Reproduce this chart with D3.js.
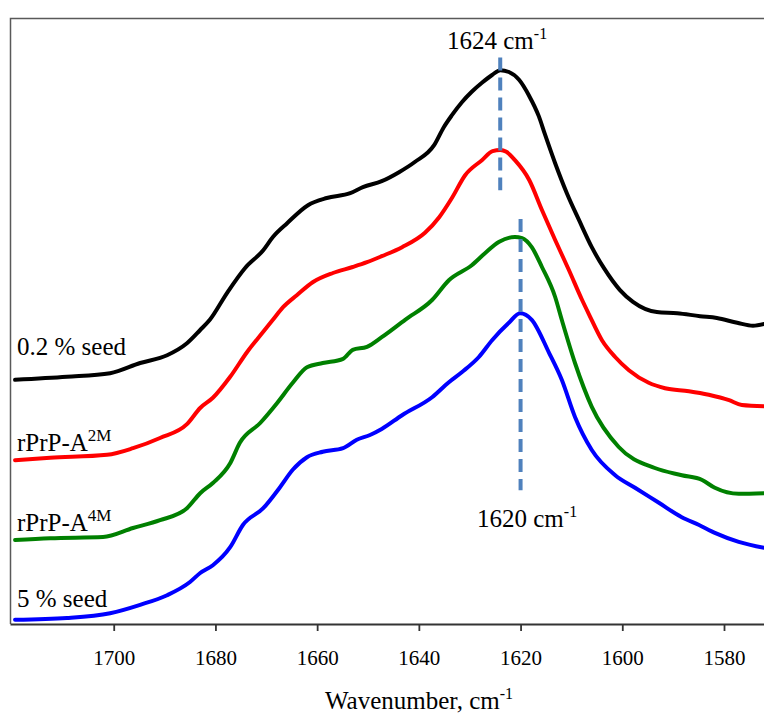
<!DOCTYPE html>
<html><head><meta charset="utf-8">
<script src="https://cdn.jsdelivr.net/npm/d3@7"></script>
<style>
body{margin:0;background:#fff}
svg{display:block}
text{font-family:"Liberation Serif","Times New Roman",serif;fill:#000}
</style>
</head><body>
<svg id="c" width="764" height="715"></svg>
<script>
// ---- data (absorbance, arbitrary offset units) ----
const xTicks = [1700, 1680, 1660, 1640, 1620, 1600, 1580];

const seed02Wn  = [1719.4,1709.2,1700.7,1694.8,1689.5,1685.6,1683.0,1681.1,1677.7,1674.2,1670.6,1668.7,1665.9,1661.8,1658.1,1653.5,1651.0,1647.3,1643.9,1640.8,1637.0,1635.1,1633.5,1631.5,1629.6,1627.6,1625.6,1624.0,1622.3,1620.3,1618.3,1616.4,1615.2,1613.2,1610.9,1608.5,1606.0,1603.6,1600.5,1597.9,1593.2,1589.2,1584.7,1581.4,1577.4,1574.3,1572.1];
const seed02Abs = [40.7,41.2,41.8,43.5,44.8,46.8,49.0,50.7,55.2,59.3,62.3,64.5,66.8,69.8,71.0,71.8,72.8,73.8,75.3,77.0,79.8,82.8,84.8,87.0,88.7,90.2,91.5,92.3,92.0,90.7,88.0,84.6,81.6,76.8,71.8,67.3,62.8,59.3,55.7,53.7,52.0,51.8,51.3,51.0,50.2,49.7,50.0];

const a2mWn  = [1719.4,1712.5,1701.3,1696.2,1690.9,1685.6,1683.0,1680.5,1677.1,1673.8,1670.6,1668.7,1666.7,1664.0,1660.8,1656.9,1653.0,1650.2,1647.3,1643.3,1638.8,1636.0,1633.5,1630.9,1627.6,1625.5,1624.0,1622.8,1621.1,1618.3,1615.8,1613.2,1610.5,1607.9,1606.6,1604.0,1601.4,1598.7,1594.8,1591.6,1586.9,1583.0,1579.0,1576.5,1572.1];
const a2mAbs = [27.3,27.7,28.2,29.3,31.0,33.3,36.0,37.7,41.2,45.3,48.7,50.7,52.8,54.8,57.0,58.5,59.5,60.3,61.3,62.8,65.2,67.8,71.0,74.8,77.3,78.8,79.0,78.7,77.3,74.0,69.0,64.0,59.0,54.0,51.7,47.3,44.5,42.3,40.2,39.3,38.8,38.2,37.3,36.5,36.3];

const a4mWn  = [1719.4,1712.5,1702.1,1696.2,1690.9,1685.6,1683.0,1680.5,1677.1,1675.2,1671.2,1667.9,1664.8,1662.0,1658.9,1654.9,1653.0,1650.2,1647.3,1642.7,1637.4,1634.1,1629.6,1627.0,1624.2,1621.1,1619.7,1617.8,1615.8,1613.2,1611.9,1609.3,1606.0,1600.7,1593.6,1588.3,1584.3,1581.8,1577.1,1572.1];
const a4mAbs = [14.0,14.3,14.5,16.0,17.3,19.3,21.8,23.5,26.8,30.2,33.5,36.8,40.2,42.8,43.5,44.2,45.7,46.2,47.8,50.7,54.0,57.3,59.8,61.8,63.7,64.5,64.3,62.8,59.5,54.5,50.7,43.5,36.2,29.5,26.0,24.8,24.0,22.7,21.7,21.8];

const seed5Wn  = [1719.4,1709.2,1700.7,1694.8,1689.5,1685.0,1683.0,1680.5,1677.1,1674.6,1670.6,1667.3,1664.8,1662.0,1658.9,1654.9,1652.2,1649.6,1647.3,1643.3,1637.4,1634.1,1631.5,1628.2,1625.6,1622.3,1620.1,1617.8,1614.4,1611.9,1609.3,1606.0,1601.4,1597.5,1592.8,1588.3,1584.9,1581.8,1577.1,1572.1];
const seed5Abs = [0.7,1.0,1.8,3.2,4.8,7.0,8.5,9.8,12.8,16.5,19.3,22.8,25.7,27.8,28.7,29.3,30.7,31.5,32.5,34.8,37.8,40.3,42.0,44.5,47.3,50.2,51.8,50.7,45.2,40.7,34.5,29.0,24.8,22.7,20.2,17.8,16.5,15.2,13.7,12.7];

const seriesNames  = ["0.2 % seed", "rPrP-A", "rPrP-A", "5 % seed"];
const seriesSups   = ["", "2M", "4M", ""];
const seriesColors = ["#000000", "#FF0000", "#008000", "#0000FF"];

const peakWn   = [1624, 1620];
const peakFrom = [94.4, 67.5];
const peakTo   = [72.3, 22.3];
const peakText = ["1624 cm", "1620 cm"];

// ---- chart ----
const svg = d3.select("#c");
const x = d3.scaleLinear().domain([1720, 1580]).range([12, 724]);
const y = d3.scaleLinear().domain([0, 100]).range([624, 24]);
const bottom = 624;

// frame (left + top)
svg.append("path")
  .attr("d", `M10.5,${bottom} V18.5 H770`)
  .attr("fill", "none").attr("stroke", "#595959").attr("stroke-width", 1.5);

// axis
const ax = svg.append("g").attr("transform", `translate(0,${bottom})`)
  .call(d3.axisBottom(x).tickValues(xTicks).tickSize(7).tickSizeOuter(0).tickFormat(d3.format("d")));
ax.select(".domain").attr("d", `M10.5,0.5H770`).attr("stroke", "#333").attr("stroke-width", 1.8);
ax.selectAll(".tick line").attr("stroke", "#333").attr("stroke-width", 1.8);
ax.selectAll(".tick text").attr("y", 41).attr("dy", 0)
  .style("font-family", '"Liberation Serif","Times New Roman",serif')
  .style("font-size", "21px").attr("fill", "#000");

// axis title
const t = svg.append("text").attr("x", 325).attr("y", 709).style("font-size", "25px");
t.append("tspan").text("Wavenumber, cm");
t.append("tspan").attr("dy", -10).style("font-size", "16px").text("-1");

// curves
const series = [
  {wn: seed02Wn, ab: seed02Abs},
  {wn: a2mWn, ab: a2mAbs},
  {wn: a4mWn, ab: a4mAbs},
  {wn: seed5Wn, ab: seed5Abs}
];
const line = d3.line().x(d => x(d[0])).y(d => y(d[1])).curve(d3.curveMonotoneX);
series.forEach((s, i) => {
  const pts = s.wn.map((w, j) => [w, s.ab[j]]);
  svg.append("path").attr("d", line(pts))
    .attr("fill", "none").attr("stroke", seriesColors[i])
    .attr("stroke-width", 4).attr("stroke-linejoin", "round").attr("stroke-linecap", "round");
});

// peak dashed lines
peakWn.forEach((w, i) => {
  svg.append("line")
    .attr("x1", x(w)).attr("x2", x(w))
    .attr("y1", y(peakFrom[i])).attr("y2", y(peakTo[i]))
    .attr("stroke", "#4F81BD").attr("stroke-width", 4)
    .attr("stroke-dasharray", "13,7");
});

// peak annotations
const peakPos = [[447, 49], [477, 527]];
peakText.forEach((s, i) => {
  const tx = svg.append("text").attr("x", peakPos[i][0]).attr("y", peakPos[i][1]).style("font-size", "25px");
  tx.append("tspan").text(s);
  tx.append("tspan").attr("dy", -10).style("font-size", "16px").text("-1");
});

// series labels
const labelY = [355, 451, 531, 607];
seriesNames.forEach((n, i) => {
  const tx = svg.append("text").attr("x", 17).attr("y", labelY[i]).style("font-size", "25px");
  tx.append("tspan").text(n);
  if (seriesSups[i]) tx.append("tspan").attr("dy", -10).style("font-size", "17px").text(seriesSups[i]);
});
</script>
</body></html>
